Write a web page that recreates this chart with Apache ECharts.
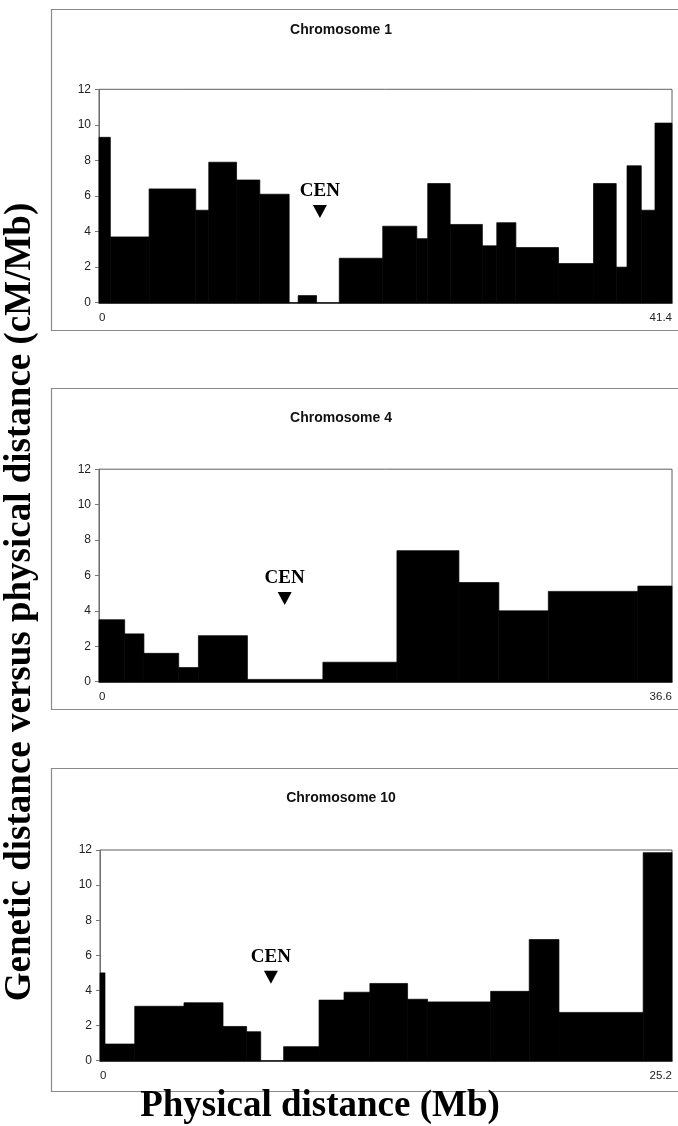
<!DOCTYPE html>
<html>
<head>
<meta charset="utf-8">
<script src="https://cdn.jsdelivr.net/npm/echarts@6/dist/echarts.min.js"></script>
<style>
html,body{margin:0;padding:0;background:#fff;}
#c{width:678px;height:1126px;}
</style>
</head>
<body>
<div id="c"></div>
<script>
// ---- data (Mb bin edges, cM/Mb values) ----
var chr1Edges = [0, 0.82, 3.62, 6.99, 7.93, 9.94, 11.62, 13.74, 14.39, 15.72, 17.36, 20.50, 22.96, 23.75, 25.37, 27.70, 28.74, 30.12, 33.20, 35.73, 37.37, 38.15, 39.18, 40.17, 41.4];
var chr1Values = [9.3, 3.7, 6.4, 5.2, 7.9, 6.9, 6.1, 0, 0.4, 0, 2.5, 4.3, 3.6, 6.7, 4.4, 3.2, 4.5, 3.1, 2.2, 6.7, 2.0, 7.7, 5.2, 10.1];

var chr4Edges = [0, 1.64, 2.87, 5.09, 6.35, 9.48, 14.30, 19.03, 22.99, 25.54, 28.70, 34.42, 36.6];
var chr4Values = [3.5, 2.7, 1.6, 0.8, 2.6, 0.13, 1.1, 7.4, 5.6, 4.0, 5.1, 5.4];

var chr10Edges = [0, 0.22, 1.53, 3.70, 5.42, 6.46, 7.08, 8.09, 9.65, 10.75, 11.89, 13.55, 14.43, 17.21, 18.91, 20.22, 23.93, 25.2];
var chr10Values = [5.0, 0.95, 3.1, 3.3, 1.95, 1.65, 0, 0.8, 3.45, 3.9, 4.4, 3.5, 3.35, 3.95, 6.9, 2.75, 11.85];

var chromosomeNames = ['Chromosome 1', 'Chromosome 4', 'Chromosome 10'];
var chromosomeLengths = [41.4, 36.6, 25.2];
var cenPositions = [15.96, 11.86, 7.53];
var cenMarkerY = [5.13, 4.7, 4.75];
var yTicks = {min: 0, max: 12, interval: 2};
var yTitle = 'Genetic distance versus physical distance (cM/Mb)';
var xTitle = 'Physical distance (Mb)';

// ---- layout ----
var grids = [
  {left: 99, right: 6, top: 89.3, height: 213.4},
  {left: 99, right: 6, top: 469.2, height: 212.5},
  {left: 100, right: 6, top: 850, height: 210.7}
];
var boxes = [
  {y: 9.5, h: 321},
  {y: 388.5, h: 321},
  {y: 768.5, h: 323}
];
var titleY = [30, 418, 798];

var allEdges = [chr1Edges, chr4Edges, chr10Edges];
var allValues = [chr1Values, chr4Values, chr10Values];

function binData(edges, values) {
  var out = [];
  for (var i = 0; i < values.length; i++) out.push([edges[i], edges[i + 1], values[i]]);
  return out;
}

function renderBin(params, api) {
  var v = api.value(2);
  if (!(v > 0)) return null;
  var p0 = api.coord([api.value(0), v]);
  var p1 = api.coord([api.value(1), 0]);
  return {
    type: 'rect',
    shape: {x: p0[0], y: p0[1], width: p1[0] - p0[0], height: p1[1] - p0[1]},
    style: {fill: '#000', stroke: '#000', lineWidth: 0.7}
  };
}

var option = {
  animation: false,
  backgroundColor: '#fff',
  grid: [], xAxis: [], yAxis: [], series: [], graphic: []
};

for (var k = 0; k < 3; k++) {
  var g = grids[k];
  option.grid.push({
    left: g.left, right: g.right, top: g.top, height: g.height,
    containLabel: false, outerBoundsMode: 'none',
    show: true, borderColor: '#5f5f5f', borderWidth: 1, backgroundColor: 'transparent'
  });
  option.xAxis.push({
    type: 'value', gridIndex: k, min: 0, max: chromosomeLengths[k], interval: chromosomeLengths[k],
    axisLine: {show: true, onZero: false, lineStyle: {color: '#111', width: 1.5}},
    axisTick: {show: false},
    splitLine: {show: false},
    axisLabel: {
      show: true, margin: 9, color: '#222', fontSize: 11.5, fontFamily: 'Liberation Sans',
      alignMinLabel: 'left', alignMaxLabel: 'right',
      formatter: function (v) { return String(v); }
    }
  });
  option.yAxis.push({
    type: 'value', gridIndex: k, min: yTicks.min, max: yTicks.max, interval: yTicks.interval,
    axisLine: {show: true, lineStyle: {color: '#6f6f6f', width: 1}},
    axisTick: {show: true, inside: false, length: 4, lineStyle: {color: '#777'}},
    splitLine: {show: false},
    axisLabel: {show: true, margin: 8, color: '#222', fontSize: 12, fontFamily: 'Liberation Sans'}
  });
  option.series.push({
    type: 'custom', xAxisIndex: k, yAxisIndex: k,
    renderItem: renderBin,
    encode: {x: [0, 1], y: 2},
    data: binData(allEdges[k], allValues[k]),
    z: 2
  });
  option.series.push({
    type: 'scatter', xAxisIndex: k, yAxisIndex: k,
    symbol: 'triangle', symbolRotate: 180, symbolSize: [14, 13],
    itemStyle: {color: '#000', opacity: 1},
    label: {
      show: true, position: 'top', distance: 4, formatter: 'CEN',
      color: '#000', fontSize: 19, fontWeight: 'bold', fontFamily: 'Liberation Serif'
    },
    emphasis: {disabled: true},
    data: [[cenPositions[k], cenMarkerY[k]]],
    z: 5
  });
  option.graphic.push({
    type: 'rect', silent: true,
    shape: {x: 51.5, y: boxes[k].y, width: 700, height: boxes[k].h},
    style: {fill: 'none', stroke: '#8a8a8a', lineWidth: 1.2}
  });
  option.graphic.push({
    type: 'text', silent: true,
    style: {
      x: 341, y: titleY[k], text: chromosomeNames[k], align: 'center', verticalAlign: 'middle',
      fill: '#111', font: 'bold 14px "Liberation Sans"'
    }
  });
}

option.graphic.push({
  type: 'text', silent: true,
  x: 20, y: 602, rotation: Math.PI / 2,
  style: {
    x: 0, y: 0, text: yTitle, align: 'center', verticalAlign: 'middle',
    fill: '#000', font: 'bold 37px "Liberation Serif"'
  }
});
option.graphic.push({
  type: 'text', silent: true,
  style: {
    x: 320, y: 1106, text: xTitle, align: 'center', verticalAlign: 'middle',
    fill: '#000', font: 'bold 37px "Liberation Serif"'
  }
});

var chart = echarts.init(document.getElementById('c'), null, {renderer: 'canvas'});
chart.setOption(option);
</script>
</body>
</html>
